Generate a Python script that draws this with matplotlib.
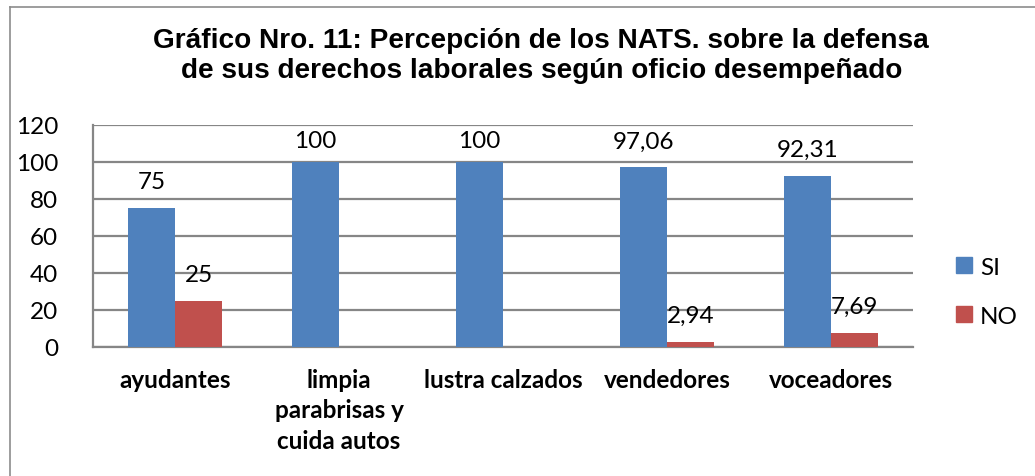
import matplotlib
matplotlib.use("Agg")
import matplotlib.pyplot as plt
from matplotlib.lines import Line2D
import numpy as np

# --- data ---
categories = ["ayudantes", "limpia\nparabrisas y\ncuida autos", "lustra calzados",
              "vendedores", "voceadores"]
si_values = [75, 100, 100, 97.06, 92.31]
no_values = [25, None, None, 2.94, 7.69]
series_names = ["SI", "NO"]

COLORS = {"SI": "#4F81BD", "NO": "#C0504D", "grid": "#868686", "border": "#8C8C8C"}
BODY_FONT = "Lato"
TITLE_FONT = "Liberation Sans"
FS = 17.5


def fmt(v):
    s = f"{v:.2f}".rstrip("0").rstrip(".")
    return s.replace(".", ",")


fig = plt.figure(figsize=(10.35, 4.77), dpi=100)
fig.patch.set_facecolor("white")
ax = fig.add_axes([93 / 1035, 1 - 348 / 477, 820 / 1035, 222 / 477])

x = np.arange(len(categories))
w = 0.287
ax.bar(x - w / 2, si_values, w, color=COLORS["SI"], zorder=3, label="SI")
no_plot = [v if v is not None else 0 for v in no_values]
ax.bar(x + w / 2, no_plot, w, color=COLORS["NO"], zorder=3, label="NO")

# data labels (kept inside the plot area, like the original)
for xi, v in zip(x - w / 2, si_values):
    ax.text(xi, min(v + 14.3, 111.4), fmt(v), ha="center", va="center",
            fontsize=FS, family=BODY_FONT, zorder=4)
for xi, v in zip(x + w / 2, no_values):
    if v is None:
        continue
    ax.text(xi, min(v + 14.3, 111.4), fmt(v), ha="center", va="center",
            fontsize=FS, family=BODY_FONT, zorder=4)

ax.set_xlim(-0.5, len(categories) - 0.5)
ax.set_ylim(0, 120)
ax.set_yticks(np.arange(0, 121, 20))
ax.yaxis.grid(True, color=COLORS["grid"], lw=1.6, zorder=0)
ax.set_axisbelow(True)
for side in ["top", "right"]:
    ax.spines[side].set_visible(False)
for side in ["left", "bottom"]:
    ax.spines[side].set_color(COLORS["grid"])
    ax.spines[side].set_linewidth(1.6)
ax.tick_params(axis="both", length=0)
ax.tick_params(axis="y", pad=25)
ax.tick_params(axis="x", pad=15)
for lbl in ax.get_yticklabels():
    lbl.set_family(BODY_FONT)
    lbl.set_fontsize(FS)
ax.set_xticks(x)
ax.set_xticklabels(categories, fontsize=FS, fontweight="bold", family=BODY_FONT,
                   linespacing=1.4, va="top")

# title
fig.text(0.523, 1 - 56 / 477,
         "Gráfico Nro. 11: Percepción de los NATS. sobre la defensa\n"
         "de sus derechos laborales según oficio desempeñado",
         ha="center", va="center", fontsize=20.2, fontweight="bold",
         family=TITLE_FONT, linespacing=1.2)

# legend
handles = [plt.Rectangle((0, 0), 1, 1, color=COLORS[n]) for n in series_names]
fig.legend(handles, series_names, loc="upper left",
           bbox_to_anchor=(934 / 1035, 1 - 236 / 477),
           frameon=False, handlelength=0.65, handleheight=0.65,
           handletextpad=0.35, labelspacing=1.15,
           prop={"family": BODY_FONT, "size": FS})

# chart border (left and top edges visible)
fig.add_artist(Line2D([10 / 1035, 10 / 1035], [0, 1 - 8 / 477],
                      transform=fig.transFigure, color=COLORS["border"], lw=1.2))
fig.add_artist(Line2D([10 / 1035, 1], [1 - 8 / 477, 1 - 8 / 477],
                      transform=fig.transFigure, color=COLORS["border"], lw=1.2))

fig.savefig("out.png", dpi=100)
